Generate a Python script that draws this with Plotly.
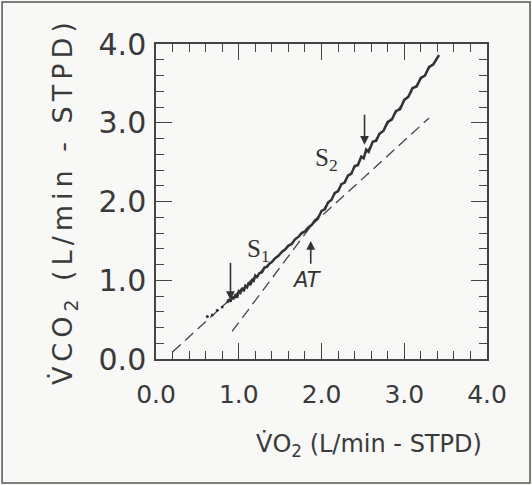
import plotly.graph_objects as go

# ---- data ----
tick_vals = [0, 1, 2, 3, 4]
x_tick_labels = ["0.0", "1.0", "2.0", "3.0", "4.0"]
y_tick_labels = ["0.0", "1.0", "2.0", "3.0", "4.0"]

# sparse early points (markers)
early_vo2 = [0.62, 0.68, 0.74, 0.80]
early_vco2 = [0.54, 0.56, 0.62, 0.66]

# noisy breath-by-breath trace
trace_vo2 = [0.86, 0.88, 0.90, 0.92, 0.94, 0.96, 0.98, 1.00, 1.02, 1.04, 1.06, 1.08,
             1.10, 1.12, 1.14, 1.16, 1.18, 1.20, 1.22, 1.25, 1.28, 1.31, 1.34, 1.37,
             1.40, 1.44, 1.48, 1.52, 1.56, 1.60, 1.64, 1.68, 1.72, 1.76, 1.80, 1.84,
             1.88, 1.92, 1.96, 2.00, 2.04, 2.08, 2.12, 2.16, 2.20, 2.24, 2.28, 2.32,
             2.36, 2.40, 2.44, 2.48, 2.51, 2.54, 2.57, 2.62, 2.66, 2.70, 2.75, 2.80,
             2.85, 2.90, 2.95, 3.00, 3.05, 3.10, 3.15, 3.20, 3.25, 3.30, 3.35, 3.40, 3.42]
trace_vco2 = [0.71, 0.76, 0.73, 0.79, 0.76, 0.82, 0.78, 0.86, 0.84, 0.90, 0.86, 0.93,
              0.91, 0.97, 0.94, 1.00, 0.99, 1.06, 1.04, 1.09, 1.10, 1.16, 1.17, 1.21,
              1.23, 1.28, 1.31, 1.36, 1.39, 1.44, 1.46, 1.52, 1.55, 1.60, 1.62, 1.67,
              1.70, 1.76, 1.79, 1.88, 1.90, 1.99, 2.02, 2.11, 2.13, 2.22, 2.24, 2.33,
              2.35, 2.45, 2.46, 2.57, 2.55, 2.66, 2.63, 2.76, 2.77, 2.86, 2.90, 3.01,
              3.04, 3.15, 3.17, 3.29, 3.33, 3.44, 3.46, 3.57, 3.60, 3.71, 3.74, 3.84, 3.86]

# fitted regression lines (dashed)
s1_line_vo2 = [0.20, 3.30]
s1_line_vco2 = [0.09, 3.06]
s2_line_vo2 = [0.92, 3.42]
s2_line_vco2 = [0.35, 3.86]

# arrows: (x, tip y, tail y)
arrow_lower = (0.90, 0.75, 1.24)
arrow_at = (1.87, 1.50, 1.19)
arrow_upper = (2.52, 2.72, 3.12)

INK = "#333333"
BG = "#f8f8f6"

fig = go.Figure()
fig.add_trace(go.Scatter(x=s1_line_vo2, y=s1_line_vco2, mode="lines",
                         line=dict(color="#444444", width=1.3, dash="11px,6px"),
                         hoverinfo="skip", showlegend=False))
fig.add_trace(go.Scatter(x=s2_line_vo2, y=s2_line_vco2, mode="lines",
                         line=dict(color="#444444", width=1.3, dash="11px,6px"),
                         hoverinfo="skip", showlegend=False))
fig.add_trace(go.Scatter(x=early_vo2, y=early_vco2, mode="markers",
                         marker=dict(color=INK, size=3),
                         showlegend=False))
fig.add_trace(go.Scatter(x=trace_vo2, y=trace_vco2, mode="lines",
                         line=dict(color=INK, width=2.5),
                         showlegend=False))

axis_common = dict(
    range=[0, 4], tickvals=tick_vals, ticks="inside", ticklen=16, tickwidth=1.3,
    tickcolor="#444444", showline=True, linecolor="#444444", linewidth=1.5,
    mirror="ticks", showgrid=False, zeroline=False,
    minor=dict(dtick=0.2, ticks="inside", ticklen=8, tickwidth=1.1, tickcolor="#444444",
               showgrid=False),
)
fig.update_xaxes(**axis_common, ticktext=x_tick_labels,
                 tickfont=dict(family="DejaVu Sans", size=25, color="#3a3a3a"),
                 ticklabelstandoff=12)
fig.update_yaxes(**axis_common, ticktext=y_tick_labels,
                 tickfont=dict(family="DejaVu Sans", size=30, color="#3a3a3a"),
                 ticklabelstandoff=2)

annotations = []
for (ax_x, tip, tail) in [arrow_lower, arrow_at, arrow_upper]:
    annotations.append(dict(x=ax_x, y=tip, ax=ax_x, ay=tail, xref="x", yref="y",
                            axref="x", ayref="y", text="", showarrow=True,
                            arrowhead=2, arrowsize=1.1, arrowwidth=1.6, arrowcolor=INK))
annotations += [
    dict(x=1.24, y=1.38, xref="x", yref="y", text="S<sub>1</sub>", showarrow=False,
         font=dict(family="Liberation Serif", size=25, color=INK)),
    dict(x=2.06, y=2.53, xref="x", yref="y", text="S<sub>2</sub>", showarrow=False,
         font=dict(family="Liberation Serif", size=25, color=INK)),
    dict(x=1.82, y=1.00, xref="x", yref="y", text="<i>AT</i>", showarrow=False,
         font=dict(family="DejaVu Sans", size=21, color=INK)),
    dict(x=0.645, y=-0.33, xref="paper", yref="paper",
         text="V\u0307O<sub>2</sub> (L/min - STPD)",
         showarrow=False, font=dict(family="DejaVu Sans", size=24, color="#3a3a3a")),
    dict(x=-0.335, y=0.50, xref="paper", yref="paper", textangle=-90,
         text="<span style='letter-spacing:5px'>V\u0307CO<sub>2</sub> (L/min - STPD)</span>",
         showarrow=False, font=dict(family="DejaVu Sans", size=27, color="#3a3a3a")),
]

fig.update_layout(
    width=532, height=485,
    margin=dict(l=156, r=45, t=44, b=126),
    paper_bgcolor=BG, plot_bgcolor=BG,
    annotations=annotations,
    shapes=[dict(type="rect", xref="paper", yref="paper", x0=-0.465, x1=1.13,
                 y0=-0.394, y1=1.133, line=dict(color="#555555", width=1.5))],
    showlegend=False,
)

fig.write_html("out.html", config={"displayModeBar": False},
               post_script="document.body.style.margin='0';document.body.style.background='%s';" % BG)
